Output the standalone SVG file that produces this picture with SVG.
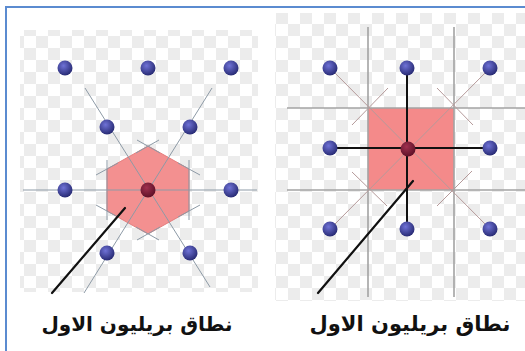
<svg xmlns="http://www.w3.org/2000/svg" width="525" height="351" viewBox="0 0 525 351">
<defs>
<style>
.thin{stroke:#8d9aa6;stroke-width:1;fill:none}
.grid{stroke:#a3a3a3;stroke-width:1.6;fill:none}
.diag{stroke:#b59a9a;stroke-width:1;fill:none}
.blk{stroke:#111;stroke-width:2;fill:none}
.ptr{stroke:#111;stroke-width:2.2;fill:none;stroke-linecap:round}
.dot{fill:url(#dg)}
.ctr{fill:url(#cg)}
.lbl{font-family:"DejaVu Sans",sans-serif;font-weight:bold;fill:#111;text-anchor:middle}
</style>
<radialGradient id="dg" cx="0.4" cy="0.35" r="0.7">
<stop offset="0" stop-color="#6f72d6"/>
<stop offset="1" stop-color="#23266e"/>
</radialGradient>
<radialGradient id="cg" cx="0.4" cy="0.35" r="0.7">
<stop offset="0" stop-color="#a0304e"/>
<stop offset="1" stop-color="#5a0f25"/>
</radialGradient>
<pattern id="chk" width="24" height="24" patternUnits="userSpaceOnUse">
<rect width="24" height="24" fill="#ffffff"/>
<rect width="12" height="12" fill="#ececec"/>
<rect x="12" y="12" width="12" height="12" fill="#ececec"/>
</pattern>
</defs>
<rect width="525" height="351" fill="#ffffff"/>
<rect x="6" y="7" width="530" height="360" fill="none" stroke="#5b8bd0" stroke-width="2"/>
<rect x="20" y="30" width="238" height="262" fill="url(#chk)"/>
<rect x="275" y="13" width="250" height="288" fill="url(#chk)"/>

<g id="zone-hex">
<polygon points="148,146 189,169 189,211 148,234 107,211 107,169" fill="#f39090" stroke="#e57d7d" stroke-width="1"/>
</g>
<g id="zone-square">
<rect x="368" y="108" width="86" height="82" fill="#f48a8a"/>
</g>

<g id="connectors">
<line class="thin" x1="23" y1="190" x2="257" y2="190"/>
<line class="thin" x1="85" y1="88" x2="210" y2="287"/>
<line class="thin" x1="212" y1="88" x2="84" y2="293"/>
<line class="thin" x1="137" y1="140" x2="160" y2="153"/>
<line class="thin" x1="136" y1="153" x2="159" y2="140"/>
<line class="thin" x1="96" y1="175" x2="118" y2="163"/>
<line class="thin" x1="96" y1="205" x2="118" y2="217"/>
<line class="thin" x1="178" y1="163" x2="200" y2="175"/>
<line class="thin" x1="178" y1="217" x2="200" y2="205"/>
<line class="thin" x1="136" y1="227" x2="159" y2="240"/>
<line class="thin" x1="137" y1="240" x2="160" y2="227"/>
<line class="thin" x1="107" y1="160" x2="107" y2="220"/>
<line class="thin" x1="189" y1="160" x2="189" y2="220"/>

<line class="grid" x1="287" y1="108" x2="525" y2="108"/>
<line class="grid" x1="287" y1="190" x2="525" y2="190"/>
<line class="grid" x1="368" y1="27" x2="368" y2="297"/>
<line class="grid" x1="454" y1="27" x2="454" y2="297"/>
<line class="diag" x1="330" y1="68" x2="490" y2="229"/>
<line class="diag" x1="490" y1="68" x2="330" y2="229"/>
<line class="diag" x1="352" y1="125" x2="388" y2="88"/>
<line class="diag" x1="437" y1="88" x2="473" y2="125"/>
<line class="diag" x1="352" y1="172" x2="387" y2="206"/>
<line class="diag" x1="437" y1="206" x2="472" y2="171"/>
<line class="blk" x1="407" y1="68" x2="407" y2="229"/>
<line class="blk" x1="330" y1="148" x2="490" y2="148"/>
</g>

<g id="lattice-left">
<circle class="dot" cx="65" cy="68" r="7.5"/>
<circle class="dot" cx="148" cy="68" r="7.5"/>
<circle class="dot" cx="231" cy="68" r="7.5"/>
<circle class="dot" cx="107" cy="127" r="7.5"/>
<circle class="dot" cx="190" cy="127" r="7.5"/>
<circle class="dot" cx="65" cy="190" r="7.5"/>
<circle class="ctr" cx="148" cy="190" r="7.5"/>
<circle class="dot" cx="231" cy="190" r="7.5"/>
<circle class="dot" cx="107" cy="253" r="7.5"/>
<circle class="dot" cx="190" cy="253" r="7.5"/>
</g>
<g id="lattice-right">
<circle class="dot" cx="330" cy="68" r="7.5"/>
<circle class="dot" cx="407" cy="68" r="7.5"/>
<circle class="dot" cx="490" cy="68" r="7.5"/>
<circle class="dot" cx="330" cy="148" r="7.5"/>
<circle class="ctr" cx="408" cy="149" r="7.5"/>
<circle class="dot" cx="490" cy="148" r="7.5"/>
<circle class="dot" cx="330" cy="229" r="7.5"/>
<circle class="dot" cx="407" cy="229" r="7.5"/>
<circle class="dot" cx="490" cy="229" r="7.5"/>
</g>

<g id="label-left">
<line class="ptr" x1="52" y1="293" x2="125" y2="208"/>
<text class="lbl" x="137" y="331" font-size="20">نطاق بريليون الاول</text>
</g>
<g id="label-right">
<line class="ptr" x1="318" y1="293" x2="413" y2="181"/>
<text class="lbl" x="410" y="331" font-size="21">نطاق بريليون الاول</text>
</g>
</svg>
